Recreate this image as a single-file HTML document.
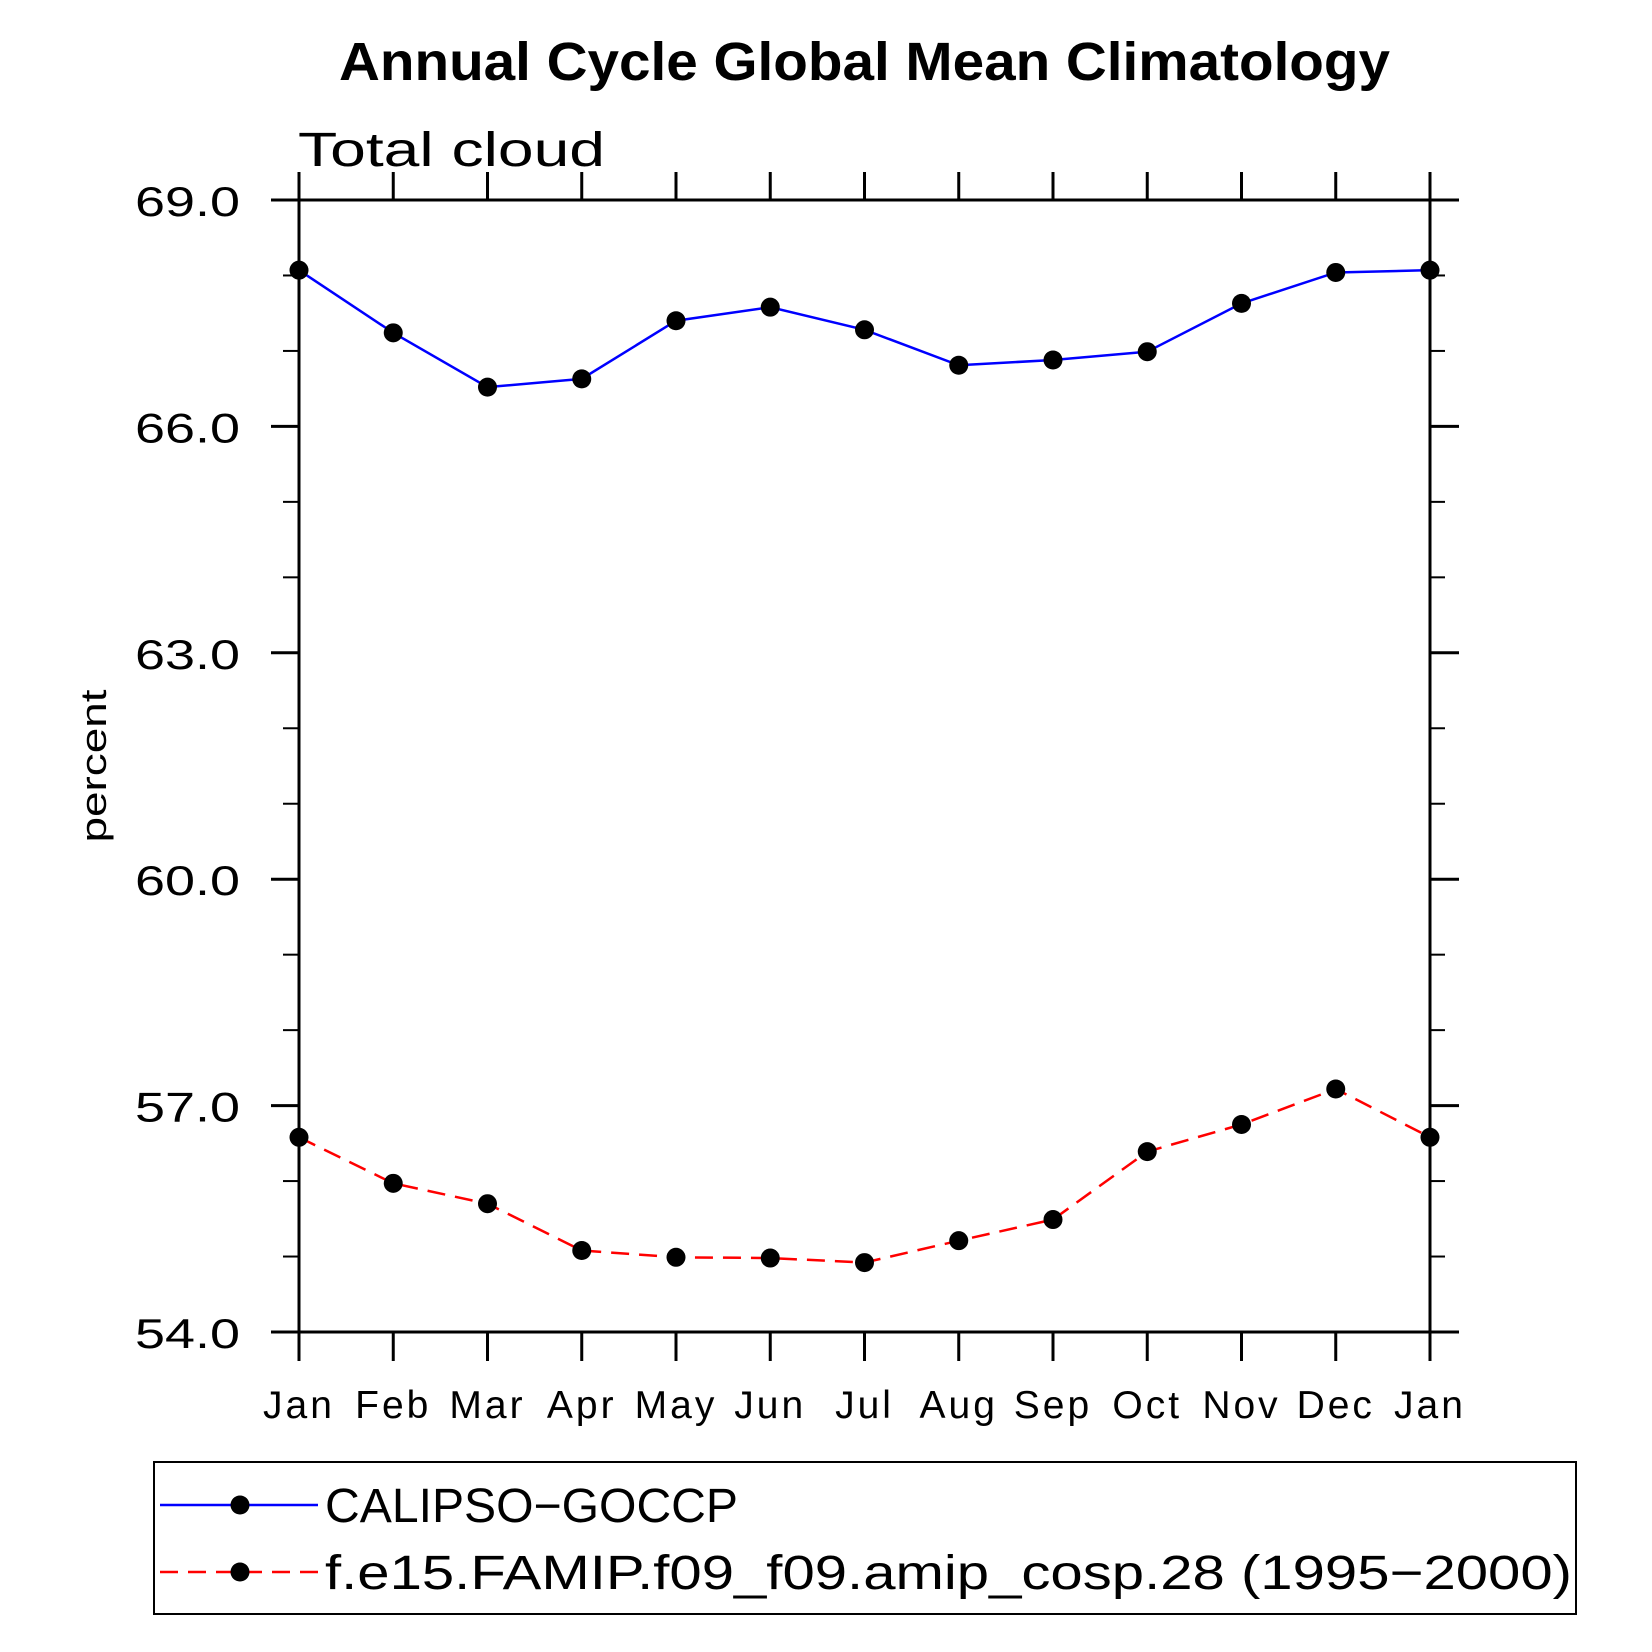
<!DOCTYPE html>
<html><head><meta charset="utf-8"><style>
html,body{margin:0;padding:0;background:#fff;}
svg{display:block;font-family:"Liberation Sans",sans-serif;}
</style></head><body>
<svg id="chart" width="1652" height="1652" viewBox="0 0 1652 1652" xmlns="http://www.w3.org/2000/svg">
<text x="339" y="80" font-size="54" font-weight="bold" textLength="1051" lengthAdjust="spacingAndGlyphs">Annual Cycle Global Mean Climatology</text>
<text x="298" y="166" font-size="48" textLength="307" lengthAdjust="spacingAndGlyphs">Total cloud</text>
<text transform="translate(106,766) rotate(-90)" text-anchor="middle" font-size="36" textLength="153" lengthAdjust="spacingAndGlyphs">percent</text>
<g id="axes"></g>
<g id="series"></g>
<rect x="154" y="1462" width="1422" height="152" fill="none" stroke="#000" stroke-width="2"/>
<g>
<line x1="160" y1="1505" x2="318" y2="1505" stroke="#0000ff" stroke-width="2.5"/>
<circle cx="240" cy="1505" r="9.5" fill="#000"/>
<text x="325" y="1522" font-size="48" textLength="413" lengthAdjust="spacingAndGlyphs">CALIPSO−GOCCP</text>
</g>
<g>
<line x1="160" y1="1572" x2="318" y2="1572" stroke="#ff0000" stroke-width="2.5" stroke-dasharray="18,10"/>
<circle cx="240" cy="1572" r="9.5" fill="#000"/>
<text x="325" y="1589" font-size="48" textLength="1247" lengthAdjust="spacingAndGlyphs">f.e15.FAMIP.f09_f09.amip_cosp.28 (1995−2000)</text>
</g>
</svg>
<script>
const months = ["Jan","Feb","Mar","Apr","May","Jun","Jul","Aug","Sep","Oct","Nov","Dec","Jan"];
const obsValues = [68.07,67.24,66.52,66.63,67.40,67.58,67.28,66.81,66.88,66.99,67.63,68.04,68.07];
const modelValues = [56.58,55.97,55.70,55.08,54.99,54.98,54.92,55.21,55.49,56.39,56.75,57.22,56.58];
const yTicks = [54,57,60,63,66,69];
const yTickLabels = ["54.0","57.0","60.0","63.0","66.0","69.0"];
const yMinorTicks = [55,56,58,59,61,62,64,65,67,68];

const NS="http://www.w3.org/2000/svg";
const L=299,R=1430,T=200,B=1332,YMIN=54,YMAX=69;
const xs=i=>L+(R-L)*i/(months.length-1);
const ys=v=>B-(B-T)*(v-YMIN)/(YMAX-YMIN);
function mk(tag,attrs,parent){const e=document.createElementNS(NS,tag);for(const k in attrs)e.setAttribute(k,attrs[k]);parent.appendChild(e);return e;}
const ax=document.getElementById('axes');
const frame=mk('rect',{x:L,y:T,width:R-L,height:B-T,fill:'none',stroke:'#000','stroke-width':3},ax);


yTicks.forEach((v,i)=>{
  const y=ys(v);
  const t1=mk('line',{x1:L-28,y1:y,x2:L,y2:y,stroke:'#000','stroke-width':3},ax);
  
  
  const t2=mk('line',{x1:R,y1:y,x2:R+29,y2:y,stroke:'#000','stroke-width':3},ax);
  
  
  const lb=mk('text',{x:L-164,y:y+16,'font-size':42,textLength:105,lengthAdjust:'spacingAndGlyphs'},ax);
  lb.textContent=yTickLabels[i];
  
  
});
yMinorTicks.forEach(v=>{
  const y=ys(v);
  const t1=mk('line',{x1:L-16,y1:y,x2:L,y2:y,stroke:'#000','stroke-width':2},ax);
  
  
  const t2=mk('line',{x1:R,y1:y,x2:R+15,y2:y,stroke:'#000','stroke-width':2},ax);
  
  
});
months.forEach((m,i)=>{
  const x=xs(i);
  const t1=mk('line',{x1:x,y1:B,x2:x,y2:B+29,stroke:'#000','stroke-width':3},ax);
  
  
  const t2=mk('line',{x1:x,y1:T-28,x2:x,y2:T,stroke:'#000','stroke-width':3},ax);
  
  
  const lb=mk('text',{x:x,y:1418,'text-anchor':'middle','font-size':39,'letter-spacing':3},ax);
  lb.textContent=m;
  
  
});
const sg=document.getElementById('series');
function drawSeries(vals,color,dash,name){
  const pts=vals.map((v,i)=>xs(i)+','+ys(v)).join(' ');
  const pl=mk('polyline',{points:pts,fill:'none',stroke:color,'stroke-width':2.5},sg);
  if(dash)pl.setAttribute('stroke-dasharray',dash);
  
  
  vals.forEach((v,i)=>{
    const c=mk('circle',{cx:xs(i),cy:ys(v),r:9.5,fill:'#000'},sg);
    
    
  });
}
drawSeries(obsValues,'#0000ff',null,'calipso');
drawSeries(modelValues,'#ff0000','18,10','model');
</script>
</body></html>
